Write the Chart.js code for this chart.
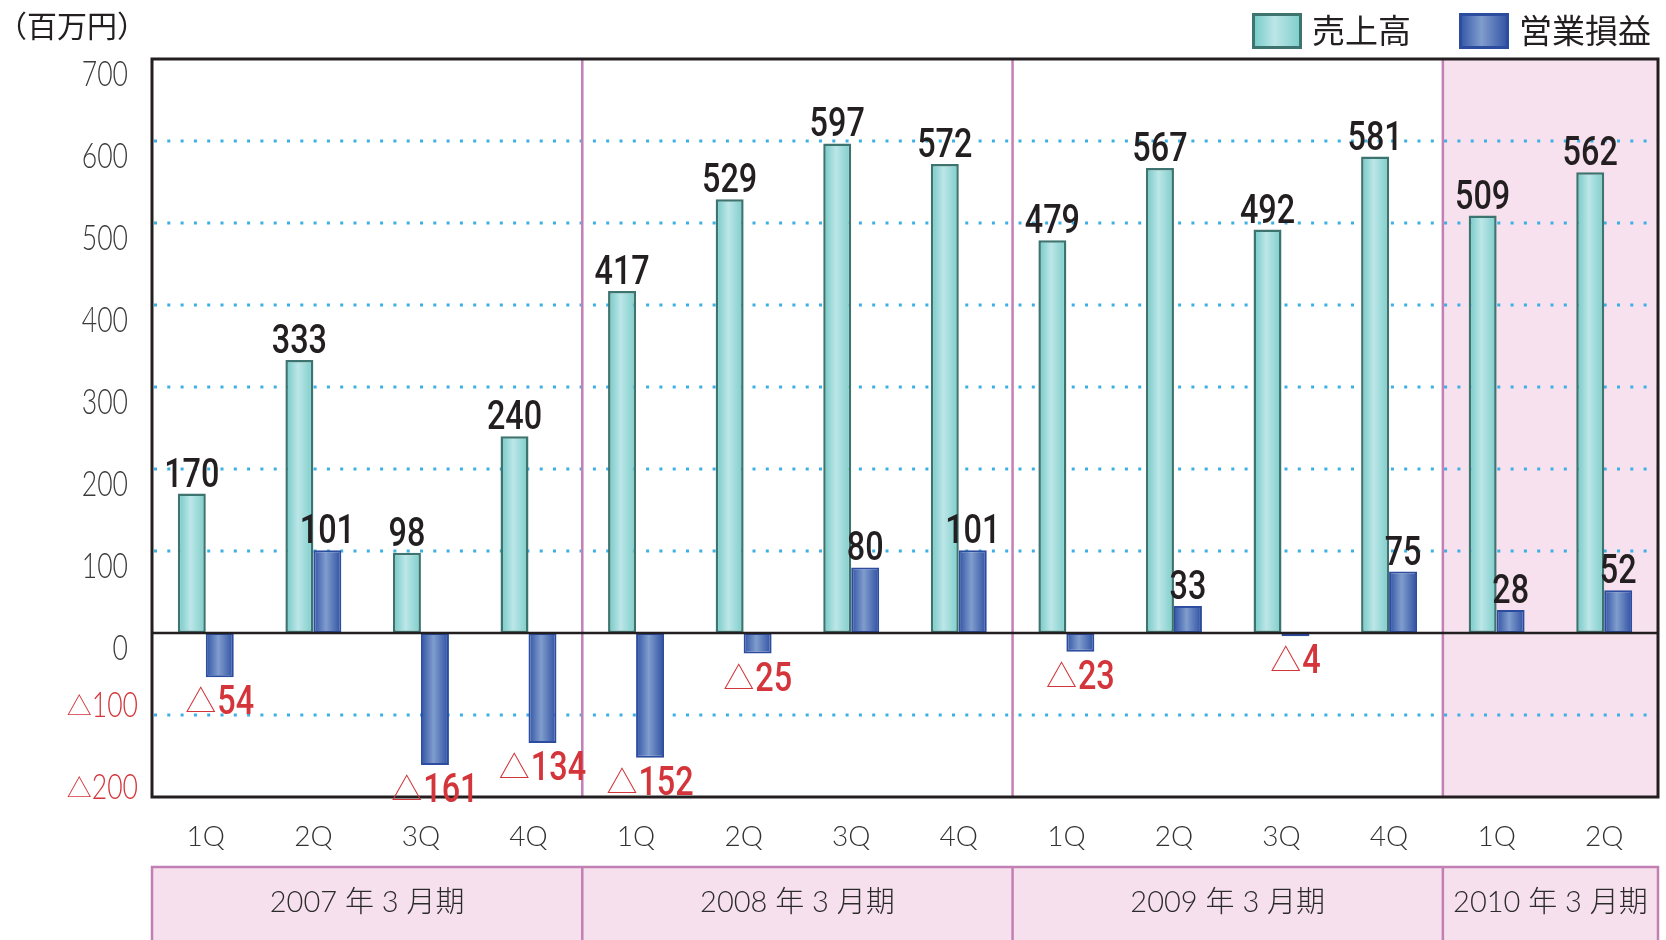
<!DOCTYPE html>
<html>
<head>
<meta charset="utf-8">
<script src="https://cdn.jsdelivr.net/npm/chart.js@4.4.0/dist/chart.umd.min.js"></script>
<style>
  html, body { margin: 0; padding: 0; background: #fff; }
  canvas { display: block; }
</style>
</head>
<body>
<canvas id="myChart" width="1666" height="940"></canvas>
<script>
// data
var quarters = ['1Q', '2Q', '3Q', '4Q', '1Q', '2Q', '3Q', '4Q', '1Q', '2Q', '3Q', '4Q', '1Q', '2Q'];
var periods = ['2007 年 3 月期', '2008 年 3 月期', '2009 年 3 月期', '2010 年 3 月期'];
var periodSize = [4, 4, 4, 2];
var sales = [170, 333, 98, 240, 417, 529, 597, 572, 479, 567, 492, 581, 509, 562];
var opIncome = [-54, 101, -161, -134, -152, -25, 80, 101, -23, 33, -4, 75, 28, 52];
var yTicks = [700, 600, 500, 400, 300, 200, 100, 0, -100, -200];
var dottedAt = [600, 500, 400, 300, 200, 100, -100];
var unitLabel = '（百万円）';

var tealStops = ['#6fc8c4', '#bde6e8', '#7acdc9'];
var blueStops = ['#3052a4', '#809dcd', '#2e4fa2'];
var RED = '#d3353b';
var INK = '#231f20';
var CAT_PCT = 0.52;
var VALUE_FONT = '500 41px Roboto';
var SQ = 0.79;

function gradient(ctx, x0, x1, stops) {
  var g = ctx.createLinearGradient(x0, 0, x1, 0);
  g.addColorStop(0, stops[0]);
  g.addColorStop(0.45, stops[1]);
  g.addColorStop(1, stops[2]);
  return g;
}

function barFill(stops) {
  return function (c) {
    var chart = c.chart;
    var xs = chart.scales.x;
    if (!xs || c.dataIndex === undefined || !chart.chartArea) return stops[1];
    var w = xs.width / quarters.length * CAT_PCT / 2;
    var xc = xs.getPixelForValue(c.dataIndex) + (c.datasetIndex === 0 ? -w / 2 : w / 2);
    if (!isFinite(xc) || !isFinite(w) || w <= 0) return stops[1];
    return gradient(chart.ctx, xc - w / 2, xc + w / 2, stops);
  };
}

function squeezed(ctx, text, x, y, sx) {
  ctx.save();
  ctx.translate(x, y);
  ctx.scale(sx, 1);
  ctx.fillText(text, 0, 0);
  ctx.restore();
}

function drawValue(ctx, v, cx, baseY) {
  var digits = String(Math.abs(v));
  ctx.textAlign = 'left';
  ctx.textBaseline = 'alphabetic';
  ctx.font = VALUE_FONT;
  var dw = ctx.measureText(digits).width * SQ;
  if (v >= 0) {
    ctx.fillStyle = INK;
    squeezed(ctx, digits, cx - dw / 2, baseY, SQ);
    return;
  }
  ctx.font = '300 31px "Noto Sans CJK JP"';
  var tw = ctx.measureText('△').width;
  var x0 = cx - (tw + 1 + dw) / 2;
  ctx.fillStyle = RED;
  ctx.fillText('△', x0, baseY - 2);
  ctx.font = VALUE_FONT;
  squeezed(ctx, digits, x0 + tw + 1, baseY, SQ);
}

// borders between the fiscal periods, in category units
function periodEdges(xs) {
  var edges = [xs.left];
  var n = 0;
  for (var i = 0; i < periodSize.length; i++) {
    n += periodSize[i];
    if (n < quarters.length) {
      edges.push((xs.getPixelForValue(n - 1) + xs.getPixelForValue(n)) / 2);
    } else {
      edges.push(xs.right);
    }
  }
  return edges;
}

var decor = {
  id: 'decor',
  beforeDatasetsDraw: function (chart) {
    var ctx = chart.ctx, a = chart.chartArea;
    var xs = chart.scales.x, ys = chart.scales.y;
    var edges = periodEdges(xs);
    ctx.save();
    // latest period shaded
    ctx.fillStyle = '#f7e1ee';
    ctx.fillRect(edges[3], a.top, a.right - edges[3], a.bottom - a.top);
    // dotted grid
    ctx.strokeStyle = '#3cb0e4';
    ctx.lineWidth = 3;
    ctx.setLineDash([3, 10.3]);
    dottedAt.forEach(function (v) {
      var y = Math.round(ys.getPixelForValue(v));
      ctx.beginPath();
      ctx.moveTo(a.left + 2, y);
      ctx.lineTo(a.right, y);
      ctx.stroke();
    });
    ctx.setLineDash([]);
    // period separators
    ctx.strokeStyle = '#c47fb6';
    ctx.lineWidth = 2.5;
    for (var i = 1; i < edges.length - 1; i++) {
      ctx.beginPath();
      ctx.moveTo(edges[i], a.top);
      ctx.lineTo(edges[i], a.bottom);
      ctx.stroke();
    }
    ctx.restore();
  },
  afterDatasetsDraw: function (chart) {
    var ctx = chart.ctx, a = chart.chartArea;
    var xs = chart.scales.x, ys = chart.scales.y;
    var edges = periodEdges(xs);
    ctx.save();
    // zero line and frame
    ctx.strokeStyle = INK;
    ctx.lineWidth = 2.5;
    var y0 = ys.getPixelForValue(0);
    ctx.beginPath();
    ctx.moveTo(a.left, y0);
    ctx.lineTo(a.right, y0);
    ctx.stroke();
    ctx.lineWidth = 3;
    ctx.strokeRect(a.left, a.top, a.right - a.left, a.bottom - a.top);

    // value labels
    chart.data.datasets.forEach(function (ds, di) {
      var meta = chart.getDatasetMeta(di);
      meta.data.forEach(function (el, i) {
        var v = ds.data[i];
        if (v >= 0) drawValue(ctx, v, el.x, el.y - 7);
        else drawValue(ctx, v, el.x, el.y + 37);
      });
    });

    // y tick labels
    yTicks.forEach(function (v) {
      var y = ys.getPixelForValue(v);
      var digits = String(Math.abs(v));
      ctx.textBaseline = 'middle';
      ctx.textAlign = 'left';
      ctx.font = '300 35px Lato';
      var dw = ctx.measureText(digits).width * 0.76;
      if (v >= 0) {
        ctx.fillStyle = '#3a3a3a';
        squeezed(ctx, digits, 128 - dw, y + 16, 0.76);
      } else {
        ctx.fillStyle = RED;
        squeezed(ctx, digits, 138 - dw, y - 9, 0.76);
        ctx.font = '200 25px "Noto Sans CJK JP"';
        var tw = ctx.measureText('△').width;
        ctx.fillText('△', 138 - dw - tw, y - 10);
      }
    });

    // quarter labels
    ctx.fillStyle = '#333';
    ctx.font = '300 28px Lato';
    ctx.textAlign = 'center';
    ctx.textBaseline = 'middle';
    quarters.forEach(function (q, i) {
      ctx.fillText(q, xs.getPixelForValue(i), 837);
    });

    // fiscal period boxes
    ctx.fillStyle = '#f6e0ed';
    ctx.fillRect(a.left, 867, a.right - a.left, 80);
    ctx.strokeStyle = '#c27fb4';
    ctx.lineWidth = 2.5;
    ctx.strokeRect(a.left, 867, a.right - a.left, 80);
    ctx.fillStyle = '#2b2b2b';
    ctx.font = '300 29px Lato, "Noto Sans CJK JP"';
    for (var p = 0; p < periods.length; p++) {
      if (p > 0) {
        ctx.beginPath();
        ctx.moveTo(edges[p], 867);
        ctx.lineTo(edges[p], 940);
        ctx.stroke();
      }
      ctx.fillText(periods[p], (edges[p] + edges[p + 1]) / 2, 903);
    }

    // unit
    ctx.textAlign = 'left';
    ctx.fillStyle = INK;
    ctx.font = '30px "Noto Sans CJK JP"';
    ctx.fillText(unitLabel, -3, 26);

    // legend
    var boxes = [
      { x: 1252, stops: tealStops, border: '#3e746f' },
      { x: 1459, stops: blueStops, border: '#2c4ca0' }
    ];
    ctx.font = '33px "Noto Sans CJK JP"';
    boxes.forEach(function (b, i) {
      ctx.fillStyle = gradient(ctx, b.x, b.x + 50, b.stops);
      ctx.fillRect(b.x, 13, 50, 36);
      ctx.strokeStyle = b.border;
      ctx.lineWidth = 3;
      ctx.strokeRect(b.x + 1.5, 14.5, 47, 33);
      ctx.fillStyle = INK;
      ctx.fillText(chart.data.datasets[i].label, b.x + 60, 30);
    });
    ctx.restore();
  }
};

var ctx = document.getElementById('myChart');
var chart = new Chart(ctx, {
  type: 'bar',
  data: {
    labels: quarters,
    datasets: [{
      label: '売上高',
      data: sales,
      backgroundColor: barFill(tealStops),
      borderColor: '#3e746f',
      borderWidth: 2.5,
      borderSkipped: false
    }, {
      label: '営業損益',
      data: opIncome,
      backgroundColor: barFill(blueStops),
      borderColor: '#2c4ca0',
      borderWidth: 2,
      borderSkipped: false
    }]
  },
  options: {
    responsive: false,
    devicePixelRatio: 1,
    animation: false,
    categoryPercentage: CAT_PCT,
    barPercentage: 1.0,
    layout: { padding: { left: 152, right: 8, top: 59, bottom: 143 } },
    scales: {
      x: { display: false },
      y: { display: false, min: -200, max: 700 }
    },
    plugins: {
      legend: { display: false },
      tooltip: { enabled: false }
    }
  },
  plugins: [decor]
});
</script>
</body>
</html>
